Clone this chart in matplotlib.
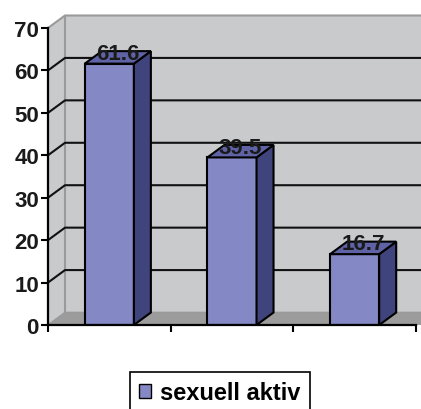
import matplotlib.pyplot as plt
from matplotlib.patches import Polygon, Rectangle, Patch

plt.rcParams['font.family'] = ['Liberation Sans', 'DejaVu Sans']
plt.rcParams['font.weight'] = 'bold'

categories = ['', '', '']
values = [61.6, 39.5, 16.7]
labels = ['61.6', '39.5', '16.7']
series_name = 'sexuell aktiv'
yticks = [0, 10, 20, 30, 40, 50, 60, 70]

front_col = '#8488C4'
side_col = '#40447C'
top_col = '#5F63A6'
wall_col = '#C9CACC'
floor_col = '#9C9C9C'
edge_gray = '#9A9A9A'

fig = plt.figure(figsize=(4.21, 4.10), dpi=100)
ax = fig.add_axes([48 / 421, 84 / 410, 368 / 421, 297 / 410])
ax.set_xlim(0, len(values))
ax.set_ylim(0, 70)
ax.patch.set_alpha(0)

# depth offset of the 3d box, in data units
dx = 17 / (368 / 3)
dy = 12.5 / (297 / 70)
xr = len(values) + 0.5
top = 70

# walls and floor
ax.add_patch(Polygon([(dx, dy), (xr, dy), (xr, top + dy), (dx, top + dy)],
                     facecolor=wall_col, edgecolor='none', zorder=0, clip_on=False))
ax.add_patch(Polygon([(0, 0), (dx, dy), (dx, top + dy), (0, top)],
                     facecolor=wall_col, edgecolor='none', zorder=0, clip_on=False))
ax.add_patch(Polygon([(0, 0), (xr, 0), (xr, dy), (dx, dy)],
                     facecolor=floor_col, edgecolor='none', zorder=0.5, clip_on=False))
ax.plot([dx, dx], [dy, top + dy], color=edge_gray, lw=1.5, zorder=1, clip_on=False)
ax.plot([0, dx, xr], [top, top + dy, top + dy], color=edge_gray, lw=1.5, zorder=1, clip_on=False)
ax.plot([0, dx, xr], [0, dy, dy], color=edge_gray, lw=1.2, zorder=1, clip_on=False)

# gridlines on left and back wall
for v in yticks[1:-1]:
    ax.plot([0, dx, xr], [v, v + dy, v + dy], color='#111111', lw=1.5,
            zorder=1, clip_on=False, solid_capstyle='butt')

# bars
w = 0.4
for i, v in enumerate(values):
    xc = i + 0.5
    x0, x1 = xc - w / 2, xc + w / 2
    ax.add_patch(Rectangle((x0, 0), w, v, facecolor=front_col,
                           edgecolor='black', lw=1.5, zorder=3))
    ax.add_patch(Polygon([(x1, 0), (x1 + dx, dy), (x1 + dx, v + dy), (x1, v)],
                         facecolor=side_col, edgecolor='black', lw=1.5, zorder=3))
    ax.add_patch(Polygon([(x0, v), (x1, v), (x1 + dx, v + dy), (x0 + dx, v + dy)],
                         facecolor=top_col, edgecolor='black', lw=1.5, zorder=3))
    ax.text(xc + dx / 2, v + 2.4, labels[i], ha='center', va='center',
            fontsize=16, fontweight='bold', color='#1a1a1a', zorder=5)

for s in ['top', 'right']:
    ax.spines[s].set_visible(False)
for s in ['left', 'bottom']:
    ax.spines[s].set_linewidth(1.6)
    ax.spines[s].set_zorder(4)
ax.set_yticks(yticks)
ax.set_xticks(range(len(values) + 1))
ax.set_xticklabels([])
ax.tick_params(axis='both', direction='out', length=5, width=1.5, labelsize=16, pad=1.5)
for t in ax.get_yticklabels():
    t.set_color('#1a1a1a')

leg = fig.legend(handles=[Patch(facecolor=front_col, edgecolor='black', lw=1)],
                 labels=[series_name], loc='upper center',
                 bbox_to_anchor=(220 / 421, 37 / 410), borderaxespad=0,
                 handlelength=0.5, handleheight=0.5, handletextpad=0.4,
                 fancybox=False, framealpha=1, edgecolor='black',
                 prop={'weight': 'bold', 'size': 17})
leg.get_frame().set_linewidth(1.2)

fig.savefig('out.png', dpi=100)
